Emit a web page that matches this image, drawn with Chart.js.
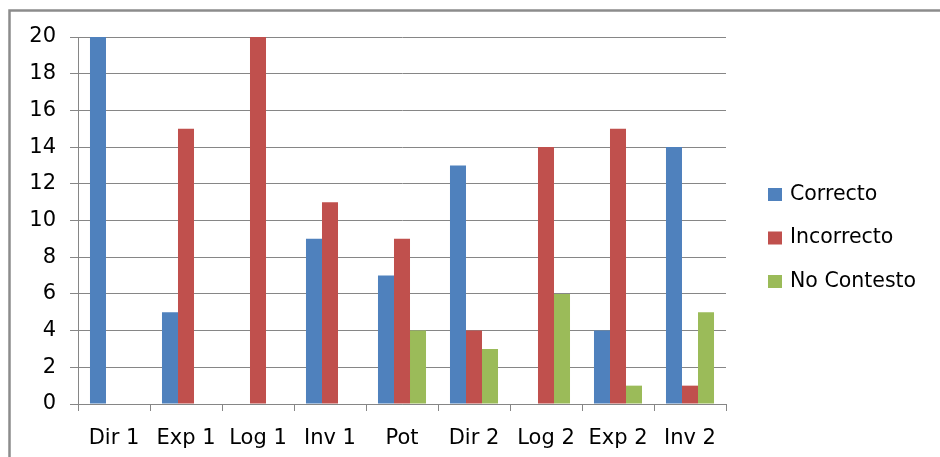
<!DOCTYPE html>
<html>
<head>
<meta charset="utf-8">
<script src="https://cdn.jsdelivr.net/npm/chart.js@4"></script>
<style>
  html, body { margin: 0; padding: 0; background: #fff; }
  #wrap { width: 940px; height: 457px; }
</style>
</head>
<body>
<div id="wrap"><canvas id="chart" width="940" height="457"></canvas></div>
<script>
// categorias y valores
const categories = ['Dir 1', 'Exp 1', 'Log 1', 'Inv 1', 'Pot', 'Dir 2', 'Log 2', 'Exp 2', 'Inv 2'];
const correcto = [20, 5, 0, 9, 7, 13, 0, 4, 14];
const incorrecto = [0, 15, 20, 11, 9, 4, 14, 15, 1];
const noContesto = [0, 0, 0, 0, 4, 3, 6, 1, 5];
const yTicks = [0, 2, 4, 6, 8, 10, 12, 14, 16, 18, 20];

const FONT = '"DejaVu Sans", sans-serif';
const GRID = '#868686';

// marco gris (solo arriba e izquierda visibles)
const framePlugin = {
    id: 'frame',
    beforeDraw(chart) {
        const ctx = chart.ctx;
        ctx.save();
        ctx.fillStyle = '#fff';
        ctx.fillRect(0, 0, chart.width, chart.height);
        ctx.strokeStyle = '#8c8c8c';
        ctx.lineWidth = 2.5;
        ctx.beginPath();
        ctx.moveTo(9.5, chart.height);
        ctx.lineTo(9.5, 10.5);
        ctx.lineTo(chart.width, 10.5);
        ctx.stroke();
        ctx.restore();
    }
};

// leyenda a la derecha
const legendPlugin = {
    id: 'sideLegend',
    afterDraw(chart) {
        const ctx = chart.ctx;
        ctx.save();
        ctx.font = '20.5px ' + FONT;
        ctx.textBaseline = 'middle';
        chart.data.datasets.forEach((ds, i) => {
            const y = 194.5 + i * 43.5;
            ctx.fillStyle = ds.backgroundColor;
            ctx.fillRect(768, y - 6.5, 14, 13);
            ctx.fillStyle = '#000';
            ctx.fillText(ds.label, 790, y);
        });
        ctx.restore();
    }
};

new Chart(document.getElementById('chart'), {
    type: 'bar',
    data: {
        labels: categories,
        datasets: [
            { label: 'Correcto', data: correcto, backgroundColor: '#4F81BD' },
            { label: 'Incorrecto', data: incorrecto, backgroundColor: '#C0504D' },
            { label: 'No Contesto', data: noContesto, backgroundColor: '#9BBB59' }
        ]
    },
    options: {
        responsive: false,
        animation: false,
        events: [],
        layout: { padding: { top: 37, right: 214, bottom: 0, left: 0 } },
        datasets: {
            bar: { categoryPercentage: 0.667, barPercentage: 1.0 }
        },
        plugins: {
            legend: { display: false },
            tooltip: { enabled: false }
        },
        scales: {
            x: {
                grid: { drawOnChartArea: false, drawTicks: true, tickLength: 7, color: GRID, offset: true },
                border: { color: GRID, width: 1 },
                ticks: { color: '#000', font: { family: FONT, size: 21 }, padding: 15, maxRotation: 0, autoSkip: false },
                afterFit(scale) { scale.height = 53; }
            },
            y: {
                min: 0,
                max: 20,
                afterBuildTicks(scale) { scale.ticks = yTicks.map(v => ({ value: v })); },
                grid: { color: GRID, tickLength: 8 },
                border: { color: GRID, width: 1 },
                ticks: { color: '#000', font: { family: FONT, size: 21 }, padding: 14 },
                afterFit(scale) { scale.width = 78; }
            }
        }
    },
    plugins: [framePlugin, legendPlugin]
});
</script>
</body>
</html>
